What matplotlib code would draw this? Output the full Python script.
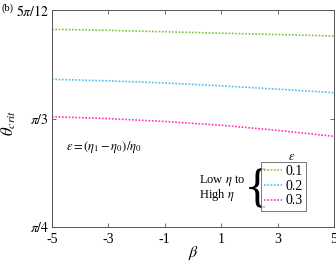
import numpy as np
import matplotlib.pyplot as plt

plt.rcParams['font.family'] = ['Liberation Serif', 'DejaVu Serif']
plt.rcParams['mathtext.fontset'] = 'stix'

# data
beta = [-5, -3, -1, 1, 3, 5]
eps_labels = ['0.1', '0.2', '0.3']
theta_01 = [1.2624, 1.2600, 1.2565, 1.2530, 1.2498, 1.2463]
theta_02 = [1.1418, 1.1380, 1.1330, 1.1260, 1.1180, 1.1095]
theta_03 = [1.0515, 1.0470, 1.0400, 1.0310, 1.0185, 1.0042]
colors = ['#7cc242', '#4dbeee', '#ff33c0']

yticks = [np.pi / 4, np.pi / 3, 5 * np.pi / 12]
ytick_labels = [r'$\pi/4$', r'$\pi/3$', r'$5\pi/12$']

fig = plt.figure(figsize=(3.36, 2.63), dpi=100)
ax = fig.add_axes([52 / 336, 1 - 227 / 263, 282 / 336, 217 / 263])

lines = []
for th, c, lab in zip([theta_01, theta_02, theta_03], colors, eps_labels):
    l, = ax.plot(beta, th, color=c, linestyle=(0, (1, 1)), linewidth=1.2, label=lab)
    lines.append(l)

ax.set_xlim(-5, 5)
ax.set_ylim(np.pi / 4, 5 * np.pi / 12)
ax.set_xticks(beta)
ax.set_xticklabels(['-5', '-3', '-1', '1', '3', '5'], fontsize=10)
ax.set_yticks(yticks)
ax.set_yticklabels(ytick_labels, fontsize=10)
ax.tick_params(direction='in', top=True, right=True, length=3, width=0.6,
               color='#555555', pad=2)
ax.tick_params(axis='x', pad=4)
for s in ax.spines.values():
    s.set_color('#555555')
    s.set_linewidth(0.7)

ax.set_xlabel(r'$\beta$', fontsize=11.5)
ax.xaxis.set_label_coords(0.5, -0.08)
ax.set_ylabel(r'$\theta_{crit}$', fontsize=12)
ax.yaxis.set_label_coords(-0.12, 0.48)

leg = ax.legend(handles=lines, loc='lower right', bbox_to_anchor=(0.90, 0.074),
                fontsize=10, frameon=True, fancybox=False, handlelength=1.3,
                handletextpad=0.2, borderpad=0.25, labelspacing=0.12,
                borderaxespad=0)
leg.get_frame().set_edgecolor('#555555')
leg.get_frame().set_linewidth(0.7)
ax.text(0.851, 0.323, r'$\varepsilon$', transform=ax.transAxes, fontsize=9,
        va='center', ha='center')

ax.text(0.05, 0.37, r'$\varepsilon = \left(\eta_1 - \eta_0\right)/\eta_0$',
        transform=ax.transAxes, fontsize=9, va='center', ha='left')
ax.text(0.52, 0.18, 'Low $\\eta$ to\nHigh $\\eta$', transform=ax.transAxes,
        fontsize=9, va='center', ha='left', linespacing=0.9)
ax.text(0.728, 0.175, '{', transform=ax.transAxes, fontsize=30,
        family='DejaVu Serif', va='center', ha='center', color='black')

fig.text(1 / 336, 1 - 8 / 263, '(b)', fontsize=7.5, va='center', ha='left')

plt.savefig('out.png', dpi=100)
